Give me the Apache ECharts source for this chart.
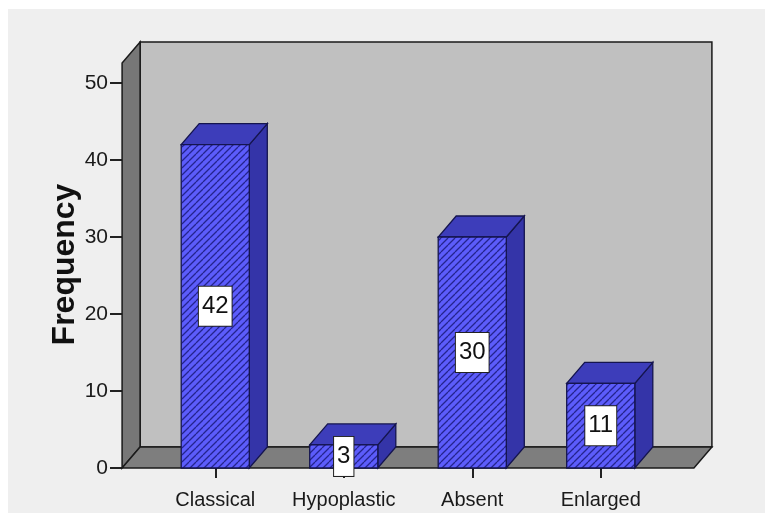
<!DOCTYPE html>
<html>
<head>
<meta charset="utf-8">
<script src="https://cdn.jsdelivr.net/npm/echarts@6/dist/echarts.min.js"></script>
<style>
  html, body { margin: 0; padding: 0; background: #ffffff; }
  #panel { position: absolute; left: 8px; top: 9px; width: 757px; height: 504px; background: #efefef; }
  #chart { position: absolute; left: 0; top: 0; width: 765px; height: 513px; }
</style>
</head>
<body>
<div id="panel"></div>
<div id="chart"></div>
<script>
// Frequency of each finding
const categories = ['Classical', 'Hypoplastic', 'Absent', 'Enlarged'];
const frequencies = [42, 3, 30, 11];
const yMin = 0;
const yMax = 50;
const yInterval = 10;
const yTitle = 'Frequency';

// 3D look: depth offset of boxes and walls, in pixels
const DX = 18, DY = 21;
const WALL_TOP = 52.6;      // front top of the side wall, in axis units
const BAR_RATIO = 0.53;     // bar width as share of a category band
const SIDE_EXT = 0.225;     // floor overhang beyond outer bands, in bands

const labelFont = '"Liberation Sans", Arial, sans-serif';

// hatched fill for bar fronts
function makeHatch() {
  const n = 7;
  const c = document.createElement('canvas');
  c.width = n; c.height = n;
  const g = c.getContext('2d');
  g.fillStyle = '#5c5cfb';
  g.fillRect(0, 0, n, n);
  g.strokeStyle = '#24248e';
  g.lineWidth = 1.3;
  g.beginPath();
  for (const k of [-n, 0, n]) { g.moveTo(k, n); g.lineTo(k + n, 0); }
  g.stroke();
  return c;
}
const hatch = makeHatch();

function renderFrame(params, api) {
  const cs = params.coordSys;
  const band = api.size([1, 0])[0];
  const ext = band * SIDE_EXT;
  const xL = cs.x - ext, xR = cs.x + cs.width + ext;
  const yB = api.coord([0, 0])[1];
  const yT = api.coord([0, WALL_TOP])[1];
  const edge = { stroke: '#1a1a1a', lineWidth: 1.5 };
  return {
    type: 'group',
    children: [
      { type: 'rect', shape: { x: xL + DX, y: yT - DY, width: xR - xL, height: yB - yT },
        style: Object.assign({ fill: '#c0c0c0' }, edge) },
      { type: 'polygon', shape: { points: [[xL, yB], [xL, yT], [xL + DX, yT - DY], [xL + DX, yB - DY]] },
        style: Object.assign({ fill: '#777777' }, edge) },
      { type: 'polygon', shape: { points: [[xL, yB], [xR, yB], [xR + DX, yB - DY], [xL + DX, yB - DY]] },
        style: Object.assign({ fill: '#7e7e7e' }, edge) }
    ]
  };
}

function renderBar(params, api) {
  const idx = api.value(0);
  const val = api.value(1);
  const top = api.coord([idx, val]);
  const base = api.coord([idx, 0]);
  const w = api.size([1, 0])[0] * BAR_RATIO;
  const L = top[0] - w / 2, R = top[0] + w / 2;
  const yT = top[1], yB = base[1];
  const mid = api.coord([idx, val / 2]);
  const edge = { stroke: '#15154f', lineWidth: 1.3 };
  return {
    type: 'group',
    children: [
      { type: 'polygon', shape: { points: [[R, yB], [R, yT], [R + DX, yT - DY], [R + DX, yB - DY]] },
        style: Object.assign({ fill: '#3434a8' }, edge) },
      { type: 'polygon', shape: { points: [[L, yT], [R, yT], [R + DX, yT - DY], [L + DX, yT - DY]] },
        style: Object.assign({ fill: '#3d3dba' }, edge) },
      { type: 'rect', shape: { x: L, y: yT, width: w, height: yB - yT },
        style: Object.assign({ fill: { image: hatch, repeat: 'repeat' } }, edge) },
      { type: 'text', x: mid[0], y: mid[1], z2: 10,
        style: { text: String(val), fontSize: 24, fontFamily: labelFont, fill: '#111',
                 align: 'center', verticalAlign: 'middle',
                 backgroundColor: '#ffffff', borderColor: '#222', borderWidth: 1,
                 padding: [8, 3, 7, 3] } }
    ]
  };
}

const chart = echarts.init(document.getElementById('chart'), null, { renderer: 'canvas' });
chart.setOption({
  backgroundColor: 'transparent',
  animation: false,
  grid: { left: 151, right: 100, top: 83, bottom: 45, containLabel: false },
  xAxis: {
    type: 'category',
    data: categories,
    axisLine: { show: false },
    axisTick: { show: true, alignWithLabel: true, length: 10, lineStyle: { color: '#222', width: 2 } },
    axisLabel: { interval: 0, margin: 22, fontSize: 20, fontFamily: labelFont, color: '#1a1a1a' },
    splitLine: { show: false }
  },
  yAxis: {
    type: 'value',
    min: yMin, max: yMax, interval: yInterval,
    offset: 29,
    name: yTitle,
    nameLocation: 'middle',
    nameRotate: 90,
    nameGap: 41,
    nameMoveOverlap: false,
    nameTextStyle: { fontFamily: '"Liberation Sans", Arial, sans-serif', fontWeight: 'bold',
                     fontSize: 32, color: '#111', padding: [0, 0, 0, 22] },
    axisLine: { show: false },
    axisTick: { show: true, length: 12, lineStyle: { color: '#222', width: 2 } },
    axisLabel: { margin: 14, fontSize: 21, fontFamily: labelFont, color: '#1a1a1a' },
    splitLine: { show: false }
  },
  series: [
    { type: 'custom', clip: false, silent: true, renderItem: renderFrame, data: [[0, 0]], z: 1 },
    { type: 'custom', clip: false, renderItem: renderBar, z: 2,
      data: frequencies.map((v, i) => [i, v]) }
  ]
});
</script>
</body>
</html>
